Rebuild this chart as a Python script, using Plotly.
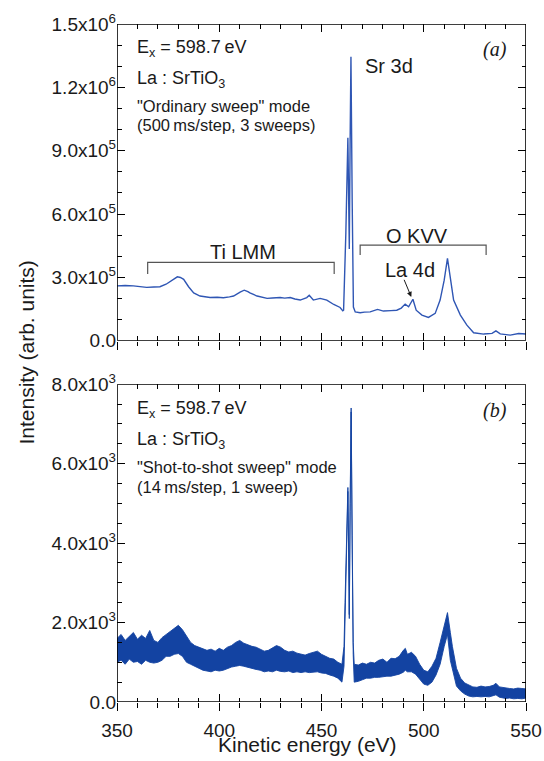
import plotly.graph_objects as go

# ---- Panel (a): ordinary sweep, counts in units of 1e5 ----
top_energy = [350, 354, 358, 361, 364.5, 368, 371, 374, 376, 378, 379.5, 381, 382.6, 385,
              387.5, 390.6, 393, 395.5, 399, 402, 405, 407, 410.2, 412.2, 414, 415, 418.5,
              421, 423.4, 426, 429.8, 432, 434.7, 437, 439.6, 442.8, 444, 446, 449.3, 452.6,
              456, 459.1, 460.4, 460.8, 461.9, 462.9, 463.3, 463.6, 464.0, 464.4, 465.0,
              465.6, 466.5, 468.9, 471, 473.8, 477.4, 480.3, 484, 486.8, 489, 490.9, 492.6,
              494.7, 496.3, 499.1, 502.3, 505.6, 508, 510, 511.6, 513, 514.6, 517.9, 521.1,
              524.4, 527, 529.3, 533.4, 535.3, 537.4, 540, 542.3, 546.4, 548, 550]
top_counts_e5 = [2.60, 2.62, 2.60, 2.57, 2.53, 2.55, 2.56, 2.68, 2.80, 2.96, 3.03, 3.00, 2.91,
                 2.56, 2.27, 2.12, 2.08, 2.05, 2.06, 2.04, 2.08, 2.12, 2.31, 2.40, 2.33, 2.27,
                 2.12, 2.06, 2.01, 2.03, 2.05, 2.02, 2.05, 1.98, 1.93, 2.05, 2.16, 1.93, 2.01,
                 1.93, 1.72, 1.58, 1.42, 1.45, 5.09, 9.61, 6.00, 4.35, 9.50, 13.45, 6.66,
                 1.60, 1.37, 1.33, 1.36, 1.37, 1.49, 1.41, 1.43, 1.45, 1.55, 1.74, 1.61,
                 1.97, 1.45, 1.22, 1.11, 1.30, 1.93, 2.87, 3.90, 2.87, 1.93, 1.22, 0.74,
                 0.38, 0.34, 0.32, 0.35, 0.47, 0.33, 0.30, 0.27, 0.35, 0.33, 0.32]

# ---- Panel (b): shot-to-shot sweep, noise band (upper / lower envelope) ----
bot_energy = [350, 352, 354, 356, 358, 360, 362, 364, 366, 368, 370, 372, 374, 376, 378, 380,
              382, 384, 386, 388, 390, 392, 394, 396, 398, 400, 402, 404, 406, 408, 410, 412,
              414, 416, 418, 420, 422, 424, 426, 428, 430, 432, 434, 436, 438, 440, 442, 444,
              446, 448, 450, 452, 454, 456, 458, 460, 461, 461.5, 462, 462.5, 462.9, 463.3,
              463.6, 464.0, 464.5, 465.0, 465.5, 466, 468, 470, 472, 474, 476, 478, 480, 482,
              484, 486, 488, 490, 491, 492, 494, 496, 498, 500, 502, 504, 506, 508, 510, 511.6,
              513, 514, 516, 518, 520, 522, 524, 526, 528, 530, 532, 534, 535.3, 537, 540, 542,
              544, 546, 548, 550]
bot_upper = [1600, 1700, 1550, 1650, 1750, 1580, 1680, 1600, 1800, 1550, 1500, 1620, 1700, 1780,
             1850, 1930, 1820, 1650, 1500, 1420, 1380, 1350, 1300, 1330, 1280, 1350, 1300, 1380,
             1420, 1500, 1550, 1480, 1430, 1400, 1380, 1330, 1280, 1300, 1350, 1420, 1380, 1300,
             1260, 1280, 1230, 1200, 1180, 1220, 1250, 1280, 1200, 1150, 1100, 1080, 1000, 950,
             1400, 2500, 3600, 4700, 5400, 3800, 2200, 5000, 7400, 4200, 1500, 950, 930, 980,
             950, 1000, 980, 1050, 1080, 1000, 1100, 1090, 1150, 1300, 1350, 1200, 1250, 1150,
             950, 800, 760, 900, 1100, 1500, 1900, 2250, 1750, 1400, 850, 600, 480, 420, 380,
             370, 400, 380, 390, 420, 470, 380, 350, 340, 330, 350, 340, 330]
bot_lower = [1000, 1050, 950, 1080, 1000, 1020, 950, 1050, 1000, 980, 1000, 1050, 1150, 1150,
             1200, 1220, 1150, 1000, 950, 900, 850, 800, 780, 760, 800, 780, 800, 850, 880, 900,
             920, 900, 870, 850, 820, 800, 760, 780, 760, 800, 770, 760, 780, 740, 760, 740, 760,
             740, 750, 760, 730, 720, 680, 650, 600, 500, 900, 2000, 3200, 4400, 5300, 3600,
             2100, 4800, 7300, 4000, 1200, 500, 520, 560, 600, 600, 620, 620, 640, 650, 650, 680,
             700, 750, 800, 760, 760, 700, 560, 450, 420, 500, 680, 950, 1400, 1700, 1050, 850,
             400, 280, 200, 150, 130, 140, 130, 140, 130, 160, 180, 120, 90, 100, 80, 90, 80, 100]

ENERGY_RANGE = [350, 550]
TOP_RANGE = [0, 1.5e6]
BOT_RANGE = [0, 8000]
top_tickvals = [0, 3e5, 6e5, 9e5, 1.2e6, 1.5e6]
top_ticktext = ["0.0", "3.0x10<sup>5</sup>", "6.0x10<sup>5</sup>", "9.0x10<sup>5</sup>",
                "1.2x10<sup>6</sup>", "1.5x10<sup>6</sup>"]
bot_tickvals = [0, 2000, 4000, 6000, 8000]
bot_ticktext = ["0.0", "2.0x10<sup>3</sup>", "4.0x10<sup>3</sup>", "6.0x10<sup>3</sup>",
                "8.0x10<sup>3</sup>"]

FONT = "Liberation Sans, Arial, sans-serif"
SERIF = "Liberation Serif, Times New Roman, serif"
INK = "#1a1a1a"
TOP_BLUE = "#2f56b4"
BOT_BLUE = "#1343a2"
MAJOR_LEN, MINOR_LEN = 8, 4.5

fig = go.Figure()
fig.add_trace(go.Scatter(x=top_energy, y=[v * 1e5 for v in top_counts_e5], mode="lines",
                         line=dict(color=TOP_BLUE, width=1.4), xaxis="x", yaxis="y",
                         showlegend=False, hoverinfo="skip"))
fig.add_trace(go.Scatter(x=bot_energy, y=bot_lower, mode="lines",
                         line=dict(color=BOT_BLUE, width=0.9), xaxis="x2", yaxis="y2",
                         showlegend=False, hoverinfo="skip"))
fig.add_trace(go.Scatter(x=bot_energy, y=bot_upper, mode="lines", fill="tonexty",
                         fillcolor=BOT_BLUE, line=dict(color=BOT_BLUE, width=0.9),
                         xaxis="x2", yaxis="y2", showlegend=False, hoverinfo="skip"))

# box frame of each panel, traced along the axis ranges
for xa, ya, yr in [("x", "y", TOP_RANGE), ("x2", "y2", BOT_RANGE)]:
    x0, x1 = ENERGY_RANGE
    y0, y1 = yr
    fig.add_trace(go.Scatter(x=[x0, x1, x1, x0, x0], y=[y0, y0, y1, y1, y0], mode="lines",
                             line=dict(color="black", width=1.6), cliponaxis=False,
                             xaxis=xa, yaxis=ya, showlegend=False, hoverinfo="skip"))

# empty traces that give each tick-only companion axis a subplot
for xa, ya in [("x3", "y3"), ("x5", "y"), ("x7", "y"), ("x4", "y4"), ("x6", "y2"),
               ("x8", "y2")]:
    fig.add_trace(go.Scatter(x=[None], y=[None], xaxis=xa, yaxis=ya, mode="lines",
                             showlegend=False, hoverinfo="skip"))

tickfont = dict(family=FONT, size=19, color=INK)
base = dict(showgrid=False, zeroline=False, automargin=False, tickcolor="black",
            showline=False)


def energy_axis(dtick, ticks, ticklen, **kw):
    return dict(base, range=ENERGY_RANGE, tickmode="linear", tick0=350, dtick=dtick,
                ticks=ticks, ticklen=ticklen, tickwidth=1.3 if ticklen == MAJOR_LEN else 1.2,
                **kw)


top_dom = [0.5327, 1.0]
bot_dom = [0.0, 0.4688]

fig.update_layout(
    template="none",
    width=544, height=761,
    margin=dict(l=117, r=18.3, t=24, b=59.3, autoexpand=False),
    paper_bgcolor="white", plot_bgcolor="white",
    font=dict(family=FONT, color=INK),
    # panel (a) energy axes: minor ticks (main), major inside, major/minor outside
    xaxis=energy_axis(10, "inside", MINOR_LEN, domain=[0, 1], anchor="y", mirror="ticks",
                      showticklabels=False),
    xaxis3=energy_axis(50, "inside", MAJOR_LEN, overlaying="x", anchor="y", mirror="ticks",
                       showticklabels=False),
    xaxis5=energy_axis(50, "outside", MAJOR_LEN, overlaying="x", anchor="y",
                       showticklabels=False),
    xaxis7=energy_axis(10, "outside", MINOR_LEN, overlaying="x", anchor="y",
                       showticklabels=False),
    # panel (b) energy axes
    xaxis2=energy_axis(10, "inside", MINOR_LEN, domain=[0, 1], anchor="y2", mirror="ticks",
                       showticklabels=False),
    xaxis4=energy_axis(50, "inside", MAJOR_LEN, overlaying="x2", anchor="y2",
                       mirror="ticks", showticklabels=False),
    xaxis6=energy_axis(50, "outside", MAJOR_LEN, overlaying="x2", anchor="y2",
                       showticklabels=True, tickfont=tickfont, ticklabelstandoff=3),
    xaxis8=energy_axis(10, "outside", MINOR_LEN, overlaying="x2", anchor="y2",
                       showticklabels=False),
    # intensity axes: minor ticks on the main axis, labelled major ticks on an overlay
    yaxis=dict(base, domain=top_dom, anchor="x", range=TOP_RANGE, tickmode="linear",
               tick0=0, dtick=1e5, ticks="inside", ticklen=MINOR_LEN, tickwidth=1.2,
               mirror="ticks", showticklabels=False),
    yaxis3=dict(base, overlaying="y", anchor="x", side="left", range=TOP_RANGE,
                tickmode="array", tickvals=top_tickvals, ticktext=top_ticktext,
                tickfont=tickfont, ticks="inside", ticklen=MAJOR_LEN, tickwidth=1.3,
                mirror="ticks"),
    yaxis2=dict(base, domain=bot_dom, anchor="x2", range=BOT_RANGE, tickmode="linear",
                tick0=0, dtick=500, ticks="inside", ticklen=MINOR_LEN, tickwidth=1.2,
                mirror="ticks", showticklabels=False),
    yaxis4=dict(base, overlaying="y2", anchor="x2", side="left", range=BOT_RANGE,
                tickmode="array", tickvals=bot_tickvals, ticktext=bot_ticktext,
                tickfont=tickfont, ticks="inside", ticklen=MAJOR_LEN, tickwidth=1.3,
                mirror="ticks"),
)

ann = []


def label(text, x, y, xref, yref, size, xanchor="left", family=FONT):
    ann.append(dict(text=text, x=x, y=y, xref=xref, yref=yref, showarrow=False,
                    xanchor=xanchor, yanchor="middle",
                    font=dict(family=family, size=size, color=INK)))


# panel (a) text
label("E<sub>x</sub> = 598.7\u2009eV", 358.6, 1.382e6, "x", "y", 18)
label("La : SrTiO<sub>3</sub>", 358.6, 1.237e6, "x", "y", 18)
label("\"Ordinary sweep\" mode", 358.6, 1.112e6, "x", "y", 16.5)
label("(500\u2009ms/step, 3 sweeps)", 358.6, 1.022e6, "x", "y", 16.5)
label("<i>(a)</i>", 534.8, 1.377e6, "x", "y", 20, xanchor="center", family=SERIF)
label("Sr 3d", 470.3, 1.30e6, "x", "y", 20)
label("Ti LMM", 411.8, 4.2e5, "x", "y", 20, xanchor="center")
label("O KVV", 496.6, 4.96e5, "x", "y", 20, xanchor="center")
label("La 4d", 493.4, 3.35e5, "x", "y", 20, xanchor="center")

# panel (b) text
label("E<sub>x</sub> = 598.7\u2009eV", 358.6, 7370, "x2", "y2", 18)
label("La : SrTiO<sub>3</sub>", 358.6, 6590, "x2", "y2", 18)
label("\"Shot-to-shot sweep\" mode", 358.6, 5917, "x2", "y2", 16.5)
label("(14\u2009ms/step, 1 sweep)", 358.6, 5420, "x2", "y2", 16.5)
label("<i>(b)</i>", 534.8, 7345, "x2", "y2", 20, xanchor="center", family=SERIF)

# arrow pointing at the La 4d feature
ann.append(dict(x=493.9, y=2.08e5, ax=490.1, ay=2.96e5, xref="x", yref="y", axref="x",
                ayref="y", showarrow=True, arrowhead=2, arrowsize=1, arrowwidth=1,
                arrowcolor=INK, text=""))

# shared axis titles
ann.append(dict(text="Intensity (arb. units)", x=-0.2202, y=0.5153, xref="paper",
                yref="paper", showarrow=False, textangle=-90, xanchor="center",
                yanchor="middle", font=dict(family=FONT, size=21, color=INK)))
ann.append(dict(text="Kinetic energy (eV)", x=0.466, y=-0.063, xref="paper", yref="paper",
                showarrow=False, xanchor="center", yanchor="middle",
                font=dict(family=FONT, size=21, color=INK)))
fig.update_layout(annotations=ann)

# brackets marking the Ti LMM and O KVV regions
bracket = dict(color="#555555", width=1.2)
fig.add_shape(type="path", xref="x", yref="y",
              path="M 365,316000 L 365,371000 L 456.2,371000 L 456.2,316000", line=bracket)
fig.add_shape(type="path", xref="x", yref="y",
              path="M 468.9,406000 L 468.9,453000 L 530.5,453000 L 530.5,406000", line=bracket)

fig.write_html("out.html")
